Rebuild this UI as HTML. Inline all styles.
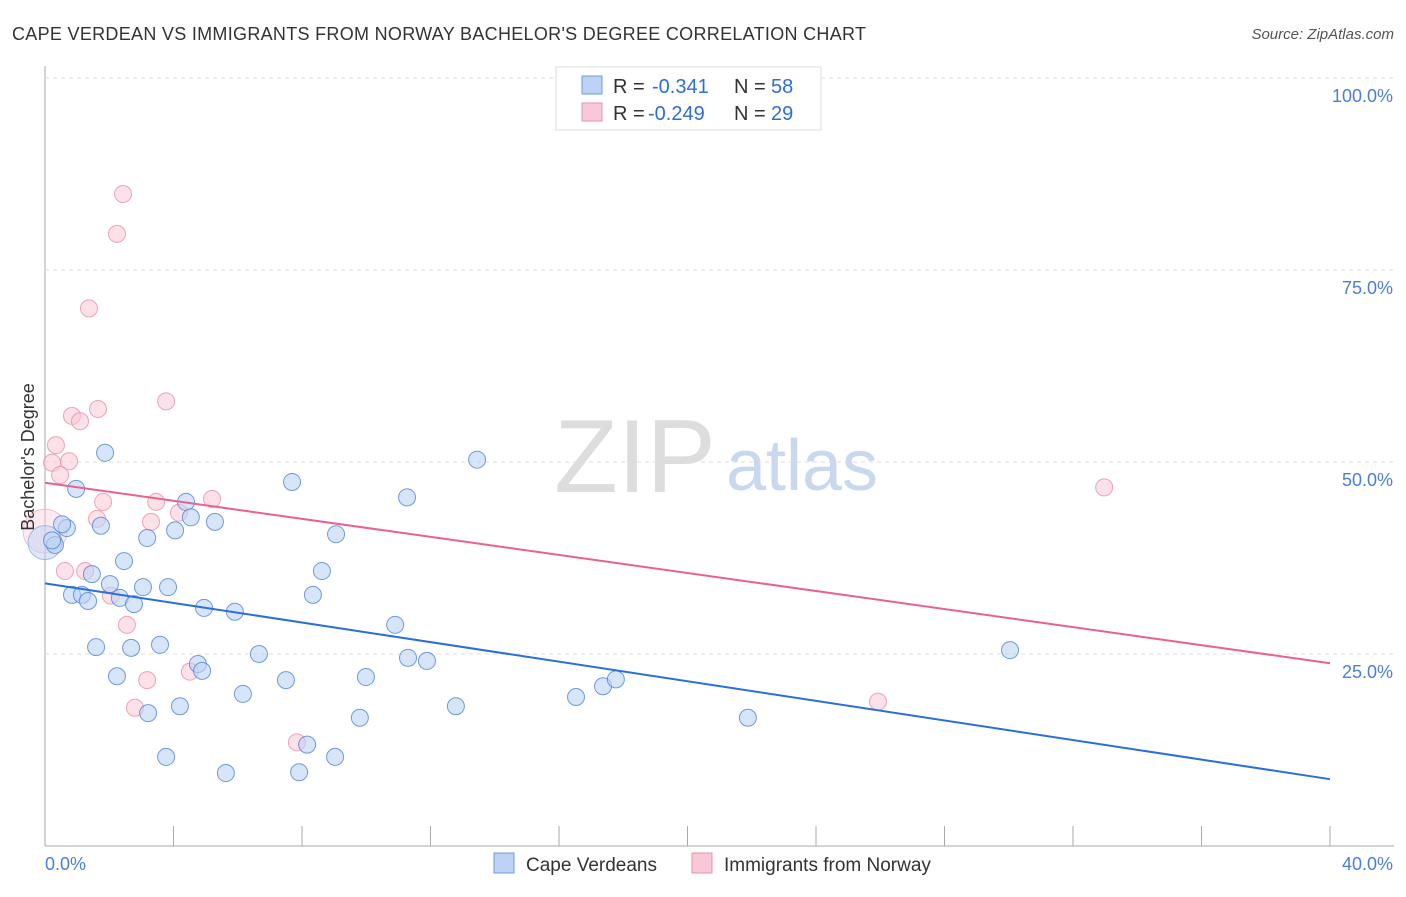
<!DOCTYPE html>
<html><head><meta charset="utf-8"><style>
body{margin:0;background:#fff;font-family:"Liberation Sans",sans-serif}
svg text{font-family:"Liberation Sans",sans-serif}
</style></head><body>
<svg id="c" width="1406" height="892">
<text x="12" y="40" font-size="18" fill="#333" textLength="854">CAPE VERDEAN VS IMMIGRANTS FROM NORWAY BACHELOR'S DEGREE CORRELATION CHART</text>
<text x="1394" y="39" font-size="15" fill="#555" font-style="italic" text-anchor="end">Source: ZipAtlas.com</text>
<text x="635" y="492" font-size="104" fill="#ddd" font-family="Liberation Serif" text-anchor="middle">ZIP</text>
<text x="802" y="490" font-size="72" fill="#c9d8ef" text-anchor="middle">atlas</text>
<g id="grid"></g><g id="marks"></g>
<text transform="translate(34,457) rotate(-90)" font-size="18" fill="#333" text-anchor="middle">Bachelor's Degree</text>
<g>
<rect x="556" y="67" width="265" height="63" fill="#fff" stroke="#ddd"/>
<rect x="582" y="76" width="20" height="18" fill="#bcd3f5" stroke="#6f9ae0"/>
<rect x="582" y="103" width="20" height="18" fill="#f9c8d6" stroke="#ea8fab"/>
<text x="613" y="93" font-size="20" fill="#333">R = </text><text x="652" y="93" font-size="20" fill="#2d6ed8">-0.341</text>
<text x="734" y="93" font-size="20" fill="#333">N = </text><text x="771" y="93" font-size="20" fill="#2d6ed8">58</text>
<text x="613" y="120" font-size="20" fill="#333">R = </text><text x="648" y="120" font-size="20" fill="#2d6ed8">-0.249</text>
<text x="734" y="120" font-size="20" fill="#333">N = </text><text x="771" y="120" font-size="20" fill="#2d6ed8">29</text>
</g>
<g>
<rect x="494" y="853" width="20" height="20" fill="#bcd3f5" stroke="#6f9ae0"/>
<text x="526" y="871" font-size="19" fill="#333">Cape Verdeans</text>
<rect x="692" y="853" width="20" height="20" fill="#f9c8d6" stroke="#ea8fab"/>
<text x="724" y="871" font-size="19" fill="#333">Immigrants from Norway</text>
</g>
</svg>
<script>
const yTicks=[25,50,75,100];
const yTickLabels=["25.0%","50.0%","75.0%","100.0%"];
const xTickLabels=["0.0%","40.0%"];
const blueX=[1.87,0.97,7.69,11.27,13.45,4.39,4.54,5.29,4.05,3.18,1.74,0.68,0.53,0.31,0.22,9.06,2.46,1.46,2.02,3.05,3.83,0.84,1.15,1.34,2.33,2.77,4.95,5.91,8.62,8.34,10.9,1.59,2.68,3.58,6.66,4.76,4.89,11.3,11.89,2.24,7.5,9.99,6.16,16.53,17.37,17.77,30.04,3.21,4.2,9.8,12.79,21.88,3.77,8.16,9.03,5.63,7.91];
const blueY=[51.2,46.5,47.4,45.4,50.3,44.8,42.8,42.2,41.1,40.1,41.7,41.4,41.9,39.2,39.8,40.6,37.1,35.4,34.1,33.7,33.7,32.7,32.7,31.9,32.3,31.5,31.0,30.5,35.8,32.7,28.8,25.9,25.8,26.2,25.0,23.7,22.8,24.5,24.1,22.1,21.6,22.0,19.8,19.4,20.8,21.7,25.5,17.3,18.2,16.7,18.2,16.7,11.6,13.2,11.6,9.5,9.6];
const pinkX=[2.43,2.24,1.37,3.77,0.84,1.65,1.09,0.34,0.22,0.75,0.47,1.81,3.46,5.2,1.62,3.3,4.17,0.62,1.25,2.05,2.55,4.51,3.18,2.8,7.84,32.97,25.93];
const pinkY=[84.9,79.7,70.0,57.9,56.0,56.9,55.3,52.2,49.9,50.1,48.3,44.8,44.8,45.2,42.6,42.2,43.4,35.8,35.8,32.6,28.8,22.7,21.6,18.0,13.5,46.7,18.8];
const blueTrend=[34.2,8.7], pinkTrend=[47.3,23.8];
const NS="http://www.w3.org/2000/svg";
const X=v=>45+v/40*1285, Y=v=>846-v/100*768;
function mk(t,a,p){const e=document.createElementNS(NS,t);for(const k in a)e.setAttribute(k,a[k]);p.appendChild(e);return e;}
const g=document.getElementById('grid'),m=document.getElementById('marks');
let e=mk('line',{x1:45,y1:66,x2:45,y2:846,stroke:'#aaa'},g);


e=mk('line',{x1:45,y1:846,x2:1394,y2:846,stroke:'#aaa'},g);


for(let i=1;i<=10;i++){e=mk('line',{x1:45+i*128.5,y1:826,x2:45+i*128.5,y2:846,stroke:'#aaa'},g);

}
yTicks.forEach((t,i)=>{e=mk('line',{x1:45,y1:Y(t),x2:1394,y2:Y(t),stroke:'#ddd','stroke-dasharray':'4,4'},g);


e=mk('text',{x:1393,y:Y(t)+24,'font-size':18,fill:'#4a7fd6','text-anchor':'end'},g);e.textContent=yTickLabels[i];

});
xTickLabels.forEach((l,i)=>{e=mk('text',{x:i?1393:45,y:870,'font-size':18,fill:'#4a7fd6','text-anchor':i?'end':'start'},g);e.textContent=l;

});
e=mk('circle',{cx:45,cy:Y(41),r:22,fill:'rgba(249,200,214,0.4)',stroke:'rgba(234,143,171,0.5)'},m);


e=mk('circle',{cx:45,cy:Y(39.5),r:17,fill:'rgba(188,211,245,0.5)',stroke:'rgba(111,154,224,0.6)'},m);


pinkX.forEach((x,i)=>{e=mk('circle',{cx:X(x),cy:Y(pinkY[i]),r:8.5,fill:'rgba(249,200,214,0.55)',stroke:'rgba(234,143,171,0.8)'},m);

});
blueX.forEach((x,i)=>{e=mk('circle',{cx:X(x),cy:Y(blueY[i]),r:8.5,fill:'rgba(188,211,245,0.6)',stroke:'rgba(80,130,215,0.8)'},m);

});
e=mk('line',{x1:X(0),y1:Y(pinkTrend[0]),x2:X(40),y2:Y(pinkTrend[1]),stroke:'#e8628e','stroke-width':2},m);


e=mk('line',{x1:X(0),y1:Y(blueTrend[0]),x2:X(40),y2:Y(blueTrend[1]),stroke:'#2a6fd9','stroke-width':2},m);


</script>
</body></html>
